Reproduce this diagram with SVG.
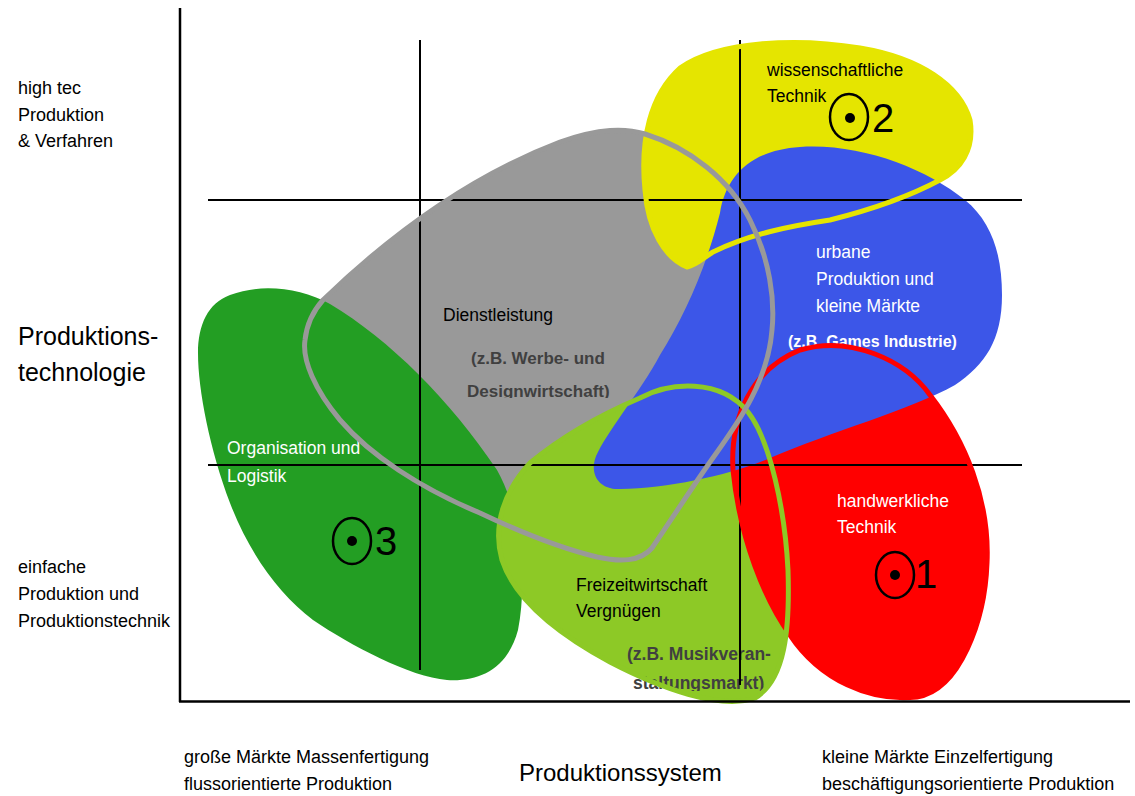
<svg xmlns="http://www.w3.org/2000/svg" width="1135" height="796" viewBox="0 0 1135 796">
<style>
text{font-family:"Liberation Sans",Arial,sans-serif;fill:#000}
.lbl{font-size:18px}
.big{font-size:25px}
.ax{font-size:24px}
.in{font-size:17.5px}
.b{font-weight:bold;font-size:17px;fill:#404040}
.w{fill:#fff}
.grid{stroke:#000;stroke-width:2;fill:none}
.axis{stroke:#000;stroke-width:2.5;fill:none}
.ol{fill:none;stroke-width:5;stroke-linejoin:round;stroke-linecap:round}
.tgt{fill:none;stroke:#000;stroke-width:2.5}
.num{font-size:40px}
</style>
<defs>
<clipPath id="c1"><rect x="400" y="370" width="250" height="28"/></clipPath>
<clipPath id="c2"><rect x="600" y="665" width="200" height="26"/></clipPath>
</defs>
<rect width="1135" height="796" fill="#fff"/>

<g id="node-dienstleistung">
<g fill="#999999"><path id="p-grey" d="M 323,300 C 380,245 460,180 560,142 C 600,128 625,128 645,134 C 690,148 730,180 750,220 C 770,260 775,300 772,330 C 768,380 740,420 715,455 C 690,490 668,525 652,548 C 640,562 620,562 597,557 C 560,548 520,532 480,513 C 420,488 370,455 340,420 C 315,390 302,360 305,340 C 307,322 314,310 323,300 Z"/></g>
<text class="in" x="443" y="321">Dienstleistung</text>
<text class="b" x="471" y="364">(z.B. Werbe- und</text>
<text class="b" x="467" y="396.5" clip-path="url(#c1)">Designwirtschaft)</text>
</g>

<g id="node-organisation">
<g fill="#239e23"><path id="p-dgreen" d="M 230,295 C 262,283 300,288 330,304 C 390,340 450,400 497,470 C 520,510 528,580 518,630 C 508,668 480,682 447,680 C 410,677 350,645 313,620 C 280,595 250,555 230,503 C 210,450 198,390 198,353 C 198,325 208,303 230,295 Z"/></g>
<text class="in w" x="227" y="454">Organisation und</text>
<text class="in w" x="227" y="482">Logistik</text>
<ellipse class="tgt" cx="352" cy="541" rx="19" ry="23"/>
<circle cx="352" cy="541" r="5" fill="#000"/>
<text class="num" x="375" y="555">3</text>
</g>

<g id="node-freizeit">
<g fill="#8dc926"><path id="p-lime" d="M 640,398 C 670,382 720,378 748,412 C 770,440 785,510 788,570 C 790,630 785,680 755,698 C 720,710 660,688 610,662 C 560,635 515,600 502,560 C 492,525 505,490 530,463 C 560,438 600,415 640,398 Z"/></g>
<text class="in" x="576" y="591">Freizeitwirtschaft</text>
<text class="in" x="576" y="617">Vergnügen</text>
<text class="b" x="627" y="660" style="font-size:17.5px">(z.B. Musikveran-</text>
<text class="b" x="633" y="689" style="font-size:17.5px" clip-path="url(#c2)">staltungsmarkt)</text>
</g>

<g id="node-wissenschaft">
<g fill="#e5e500"><path id="p-yellow" d="M 687,267 C 665,258 648,230 645,190 C 640,140 650,95 680,68 C 720,40 800,38 860,48 C 920,58 960,85 970,120 C 975,150 960,170 940,180 C 910,196 870,210 830,220 C 790,226 750,234 713,252 C 703,258 697,265 687,267 Z"/></g>
<text class="in" x="767" y="76">wissenschaftliche</text>
<text class="in" x="767" y="102">Technik</text>
<ellipse class="tgt" cx="849" cy="117" rx="19" ry="23"/>
<circle cx="850" cy="118" r="5" fill="#000"/>
<text class="num" x="872" y="132">2</text>
</g>

<g id="node-handwerk">
<g fill="#ff0000"><path id="p-red" d="M 733,470 C 730,420 750,370 800,350 C 850,335 905,360 930,395 C 965,440 990,500 987,563 C 985,620 960,690 917,697 C 870,702 820,680 790,635 C 765,600 740,540 733,470 Z"/></g>
<text class="in w" x="837" y="507">handwerkliche</text>
<text class="in w" x="837" y="533">Technik</text>
<ellipse class="tgt" cx="895" cy="575" rx="19" ry="23"/>
<circle cx="895" cy="575" r="5" fill="#000"/>
<text class="num" x="915" y="588">1</text>
</g>

<g id="node-urban">
<g fill="#3c56e8"><path id="p-blue" d="M 720,213 C 726,175 752,150 800,147 C 860,143 925,168 965,200 C 992,222 1002,255 1002,295 C 1002,340 985,365 955,385 C 910,410 830,432 770,458 C 730,475 670,488 620,489 C 596,490 588,470 598,452 C 612,425 640,392 660,355 C 685,315 706,268 720,213 Z"/></g>
<text class="in w" x="816" y="258">urbane</text>
<text class="in w" x="816" y="285">Produktion und</text>
<text class="in w" x="816" y="312">kleine Märkte</text>
<text class="b w" x="788" y="347" style="font-size:16px">(z.B. Games Industrie)</text>
</g>

<g id="grid">
<line class="grid" x1="420" y1="40" x2="420" y2="670"/>
<line class="grid" x1="740" y1="40" x2="740" y2="685"/>
<line class="grid" x1="208" y1="200" x2="1022" y2="200"/>
<line class="grid" x1="208" y1="465" x2="1022" y2="465"/>
</g>

<g id="connectors">
<use href="#p-yellow" class="ol" stroke="#e5e500"/>
<use href="#p-red" class="ol" stroke="#ff0000"/>
<use href="#p-lime" class="ol" stroke="#8dc926"/>
<use href="#p-grey" class="ol" stroke="#999999"/>
<line class="axis" x1="180" y1="8" x2="180" y2="702"/>
<line class="axis" x1="179" y1="701.5" x2="1130" y2="701.5"/>
</g>

<g id="axis-labels">
<text class="lbl" x="18" y="94">high tec</text>
<text class="lbl" x="18" y="121">Produktion</text>
<text class="lbl" x="18" y="147">&amp; Verfahren</text>
<text class="big" x="18" y="345">Produktions-</text>
<text class="big" x="18" y="381">technologie</text>
<text class="lbl" x="18" y="573">einfache</text>
<text class="lbl" x="18" y="600">Produktion und</text>
<text class="lbl" x="18" y="627">Produktionstechnik</text>
<text class="lbl" x="184" y="763">große Märkte Massenfertigung</text>
<text class="lbl" x="184" y="790">flussorientierte Produktion</text>
<text class="ax" x="519" y="781">Produktionssystem</text>
<text class="lbl" x="822" y="763">kleine Märkte Einzelfertigung</text>
<text class="lbl" x="822" y="790">beschäftigungsorientierte Produktion</text>
</g>
</svg>
